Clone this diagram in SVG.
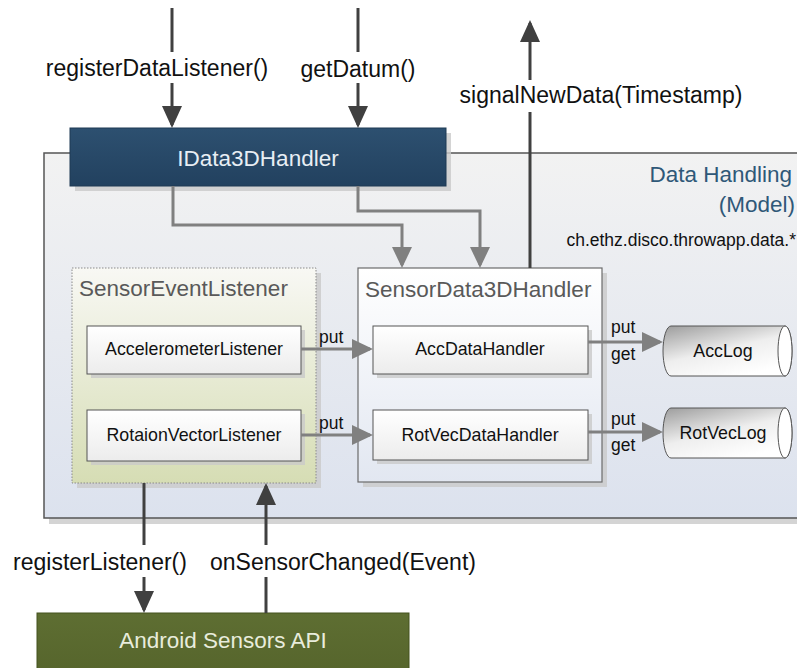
<svg xmlns="http://www.w3.org/2000/svg" width="797" height="668" viewBox="0 0 797 668">
<defs>
<style>
text{font-family:"Liberation Sans",Arial,sans-serif}
.lbl{font-size:23px;fill:#111}
.big{font-size:22.5px}
.small{font-size:17.5px;fill:#111}
.inner{font-size:17.8px;fill:#111;text-anchor:middle}
.dark{stroke:#404040;stroke-width:3;fill:none}
.gray{stroke:#808080;stroke-width:3;fill:none}
.shadow{fill:#c9c9c9;opacity:0.8}
</style>
<linearGradient id="gModel" x1="0" y1="0" x2="0" y2="1">
<stop offset="0" stop-color="#f2f2f2"/><stop offset="1" stop-color="#dce2ee"/>
</linearGradient>
<linearGradient id="gBlue" x1="0" y1="0" x2="0" y2="1">
<stop offset="0" stop-color="#2d5070"/><stop offset="1" stop-color="#22415f"/>
</linearGradient>
<linearGradient id="gGreen" x1="0" y1="0" x2="0" y2="1">
<stop offset="0" stop-color="#f8f8f4"/><stop offset="1" stop-color="#d6ddb4"/>
</linearGradient>
<linearGradient id="gSD" x1="0" y1="0" x2="0" y2="1">
<stop offset="0" stop-color="#ffffff"/><stop offset="1" stop-color="#e2e7f1"/>
</linearGradient>
<linearGradient id="gBox" x1="0" y1="0" x2="0" y2="1">
<stop offset="0" stop-color="#ffffff"/><stop offset="1" stop-color="#ececec"/>
</linearGradient>
<linearGradient id="gLog" x1="0" y1="0" x2="0.6" y2="1">
<stop offset="0" stop-color="#9c9c9c"/><stop offset="0.55" stop-color="#eeeeee"/><stop offset="1" stop-color="#ffffff"/>
</linearGradient>
<linearGradient id="gOlive" x1="0" y1="0" x2="0" y2="1">
<stop offset="0" stop-color="#5e6e32"/><stop offset="1" stop-color="#56652c"/>
</linearGradient>
<marker id="ahD" markerWidth="22" markerHeight="20" refX="19" refY="10" orient="auto" markerUnits="userSpaceOnUse">
<path d="M0,0 L22,10 L0,20 Z" fill="#404040"/>
</marker>
<marker id="ahG" markerWidth="21" markerHeight="20" refX="18" refY="10" orient="auto" markerUnits="userSpaceOnUse">
<path d="M0,0 L21,10 L0,20 Z" fill="#808080"/>
</marker>
</defs>
<rect width="797" height="668" fill="#ffffff"/>

<g id="model">
<rect class="shadow" x="49" y="158" width="760" height="366"/>
<rect x="44" y="153" width="760" height="365" fill="url(#gModel)" stroke="#555" stroke-width="1.5"/>
<text class="big" x="792" y="182" text-anchor="end" fill="#2f5878">Data Handling</text>
<text class="big" x="795" y="212" text-anchor="end" fill="#2f5878">(Model)</text>
<text class="small" x="796" y="246" text-anchor="end">ch.ethz.disco.throwapp.data.*</text>
</g>

<g id="idata3dhandler">
<rect class="shadow" x="75" y="133" width="376" height="58"/>
<rect x="70" y="128" width="376" height="58" fill="url(#gBlue)" stroke="#1e3a55" stroke-width="1"/>
<text class="big" x="258" y="166" text-anchor="middle" fill="#e8eef4">IData3DHandler</text>
</g>

<g id="sensoreventlistener">
<rect class="shadow" x="77" y="273" width="244" height="215"/>
<rect x="72" y="268" width="244" height="215" fill="url(#gGreen)" stroke="#8a8a8a" stroke-width="1" stroke-dasharray="1.5,1.5"/>
<text class="big" x="79" y="296" fill="#595959">SensorEventListener</text>
</g>

<g id="accelerometerlistener">
<rect class="shadow" x="91" y="330" width="214" height="48"/>
<rect x="87" y="326" width="214" height="48" fill="url(#gBox)" stroke="#555" stroke-width="1"/>
<text class="inner" x="194" y="355">AccelerometerListener</text>
</g>

<g id="rotaionvectorlistener">
<rect class="shadow" x="91" y="414" width="214" height="51"/>
<rect x="87" y="410" width="214" height="51" fill="url(#gBox)" stroke="#555" stroke-width="1"/>
<text class="inner" x="194" y="441">RotaionVectorListener</text>
</g>

<g id="sensordata3dhandler">
<rect class="shadow" x="363" y="273" width="244" height="214"/>
<rect x="358" y="268" width="244" height="214" fill="url(#gSD)" stroke="#6b6b6b" stroke-width="1.2"/>
<text class="big" x="365" y="297" fill="#595959">SensorData3DHandler</text>
</g>

<g id="accdatahandler">
<rect class="shadow" x="377" y="330" width="215" height="48"/>
<rect x="373" y="326" width="215" height="48" fill="url(#gBox)" stroke="#555" stroke-width="1"/>
<text class="inner" x="480" y="355">AccDataHandler</text>
</g>

<g id="rotvecdatahandler">
<rect class="shadow" x="377" y="414" width="215" height="50"/>
<rect x="373" y="410" width="215" height="50" fill="url(#gBox)" stroke="#555" stroke-width="1"/>
<text class="inner" x="480" y="441">RotVecDataHandler</text>
</g>

<g id="acclog">
<path d="M671,326 L785,326 A7,25 0 0 1 785,376 L671,376 A8,25 0 0 1 671,326 Z" fill="url(#gLog)" stroke="#555" stroke-width="1"/>
<ellipse cx="785" cy="351" rx="7" ry="25" fill="#ffffff" stroke="#555" stroke-width="1"/>
<text class="inner" x="723" y="357">AccLog</text>
</g>

<g id="rotveclog">
<path d="M671,408 L785,408 A7,25 0 0 1 785,458 L671,458 A8,25 0 0 1 671,408 Z" fill="url(#gLog)" stroke="#555" stroke-width="1"/>
<ellipse cx="785" cy="433" rx="7" ry="25" fill="#ffffff" stroke="#555" stroke-width="1"/>
<text class="inner" x="723" y="439">RotVecLog</text>
</g>

<g id="android">
<rect x="37" y="613" width="372" height="60" fill="url(#gOlive)" stroke="#44521f" stroke-width="1"/>
<text class="big" x="223" y="648" text-anchor="middle" fill="#e8ecdc">Android Sensors API</text>
</g>

<g id="connectors">
<line class="dark" x1="172" y1="8" x2="172" y2="52"/>
<line class="dark" x1="172" y1="83" x2="172" y2="125" marker-end="url(#ahD)"/>
<line class="dark" x1="358" y1="8" x2="358" y2="52"/>
<line class="dark" x1="358" y1="83" x2="358" y2="125" marker-end="url(#ahD)"/>
<line class="dark" x1="530" y1="268" x2="530" y2="112"/>
<line class="dark" x1="530" y1="80" x2="530" y2="23" marker-end="url(#ahD)"/>
<line class="dark" x1="144" y1="483" x2="144" y2="545"/>
<line class="dark" x1="144" y1="577" x2="144" y2="610" marker-end="url(#ahD)"/>
<line class="dark" x1="266" y1="613" x2="266" y2="577"/>
<line class="dark" x1="266" y1="545" x2="266" y2="486" marker-end="url(#ahD)"/>
<polyline class="gray" points="173,186 173,225 402,225 402,265" marker-end="url(#ahG)"/>
<polyline class="gray" points="358,186 358,211 480,211 480,265" marker-end="url(#ahG)"/>
<line class="gray" x1="301" y1="349" x2="370" y2="349" marker-end="url(#ahG)"/>
<line class="gray" x1="301" y1="435" x2="370" y2="435" marker-end="url(#ahG)"/>
<line class="gray" x1="588" y1="342" x2="660" y2="342" marker-end="url(#ahG)"/>
<line class="gray" x1="588" y1="432" x2="660" y2="432" marker-end="url(#ahG)"/>
<text class="lbl" x="157" y="76" text-anchor="middle">registerDataListener()</text>
<text class="lbl" x="358" y="77" text-anchor="middle">getDatum()</text>
<text class="lbl" x="601" y="103" text-anchor="middle">signalNewData(Timestamp)</text>
<text class="lbl" x="100" y="570" text-anchor="middle">registerListener()</text>
<text class="lbl" x="343" y="570" text-anchor="middle">onSensorChanged(Event)</text>
<text class="small" x="319" y="343">put</text>
<text class="small" x="319" y="429">put</text>
<text class="small" x="611" y="333">put</text>
<text class="small" x="611" y="360">get</text>
<text class="small" x="611" y="425">put</text>
<text class="small" x="611" y="451">get</text>
</g>
</svg>
